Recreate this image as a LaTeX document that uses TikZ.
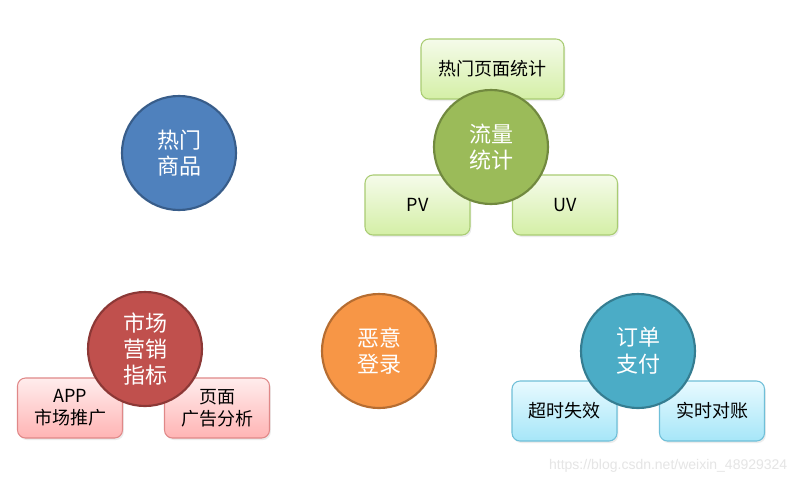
\documentclass[tikz,border=0pt]{standalone}
\usepackage{fontspec}
\setmainfont{Noto Sans CJK SC}
\newfontfamily\wmfont{Liberation Sans}
\usetikzlibrary{shadows}
\definecolor{cblue}{HTML}{4F81BD}\definecolor{cblueD}{HTML}{385D8A}
\definecolor{cgreen}{HTML}{9BBB59}\definecolor{cgreenD}{HTML}{71893F}
\definecolor{cred}{HTML}{C0504D}\definecolor{credD}{HTML}{8C3836}
\definecolor{corange}{HTML}{F79646}\definecolor{corangeD}{HTML}{B66D31}
\definecolor{cteal}{HTML}{4BACC6}\definecolor{ctealD}{HTML}{357D91}
\definecolor{gTop}{HTML}{F5FBEA}\definecolor{gBot}{HTML}{D4EFA6}\definecolor{gBrd}{HTML}{A9CC73}
\definecolor{rTop}{HTML}{FFEDED}\definecolor{rBot}{HTML}{FFB4B4}\definecolor{rBrd}{HTML}{E08888}
\definecolor{bTop}{HTML}{E8FAFF}\definecolor{bBot}{HTML}{A6E6F8}\definecolor{bBrd}{HTML}{6FBFD8}
\tikzset{
  circ/.style={circle, minimum size=114*0.75pt, inner sep=0pt, line width=1.6pt, text=white, font=\fontsize{16.5}{20}\selectfont, align=center},
  boxn/.style={rounded corners=6pt, minimum width=105*0.75pt, minimum height=60*0.75pt, inner sep=0pt, line width=0.8pt, font=\fontsize{13.5}{16.5}\selectfont, align=center, drop shadow={shadow xshift=1pt, shadow yshift=-1.5pt, opacity=0.15}},
  gbox/.style={boxn, draw=gBrd, top color=gTop, bottom color=gBot},
  rbox/.style={boxn, draw=rBrd, top color=rTop, bottom color=rBot},
  bbox/.style={boxn, draw=bBrd, top color=bTop, bottom color=bBot},
}
\begin{document}
\begin{tikzpicture}[x=0.75pt,y=-0.75pt]
\useasboundingbox (0,0) rectangle (800,483);
\fill[white] (0,0) rectangle (800,483);
% boxes
\node[gbox, minimum width=143*0.75pt] (hotpage) at (492.5,69) {热门页面统计};
\node[gbox] (pv) at (417.5,205) {PV};
\node[gbox] (uv) at (565,205) {UV};
\node[rbox] (app) at (70,408) {APP\\市场推广};
\node[rbox] (ad) at (217,408) {页面\\广告分析};
\node[bbox] (timeout) at (564.5,411) {超时失效};
\node[bbox] (recon) at (712,411) {实时对账};
% circles
\node[circ, fill=cblue, draw=cblueD] (hot) at (179,153) {热门\\商品};
\node[circ, fill=cgreen, draw=cgreenD] (flow) at (491,147) {流量\\统计};
\node[circ, fill=cred, draw=credD, font=\fontsize{16.5}{19.5}\selectfont] (mkt) at (145,349) {市场\\营销\\指标};
\node[circ, fill=corange, draw=corangeD] (evil) at (379,351) {恶意\\登录};
\node[circ, fill=cteal, draw=ctealD] (order) at (638,351) {订单\\支付};
% watermark
\node[text=black!10, font=\wmfont\fontsize{10.5}{12}\selectfont, anchor=east] (wm) at (792,466) {https://blog.csdn.net/weixin\_48929324};
\end{tikzpicture}
\end{document}
